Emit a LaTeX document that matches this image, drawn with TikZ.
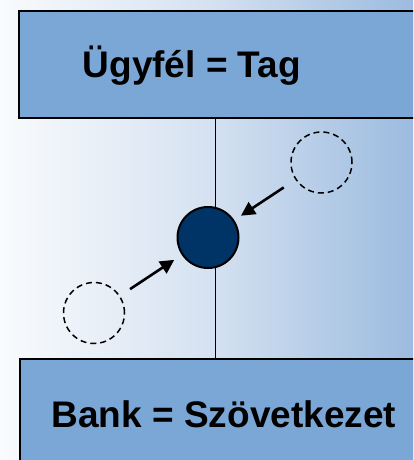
\documentclass[tikz,border=0pt]{standalone}
\usepackage{fontspec}
\setmainfont{Liberation Sans}
\usetikzlibrary{arrows.meta}
\definecolor{bgL}{HTML}{F9FBFD}
\definecolor{bgM}{HTML}{D6E2F1}
\definecolor{bgR}{HTML}{9CBBDF}
\definecolor{boxfill}{HTML}{7BA7D6}
\definecolor{dot}{HTML}{003366}
\tikzset{
  bluebox/.style={draw=black, line width=2pt, fill=boxfill, rectangle, inner sep=0pt},
  label text/.style={font=\bfseries\fontsize{37}{40}\selectfont, inner sep=0pt, anchor=base west},
  ghost/.style={circle, draw=black, dash pattern=on 6pt off 4pt, line width=1.5pt, minimum size=61pt, inner sep=0pt},
  member/.style={circle, draw=black, line width=2pt, fill=dot, minimum size=61pt, inner sep=0pt},
  arr/.style={line width=2.6pt, -{Triangle[length=14pt,width=14pt]}},
}
\begin{document}
\begin{tikzpicture}[x=1pt,y=-1pt]
\useasboundingbox (0,0) rectangle (413,460);
\clip (0,0) rectangle (413,460);
\shade[left color=bgL, right color=bgR, middle color=bgM] (0,0) rectangle (413,460);
\node[bluebox, minimum width=420pt, minimum height=107pt, anchor=north west] (top) at (18,10) {};
\node[bluebox, minimum width=420pt, minimum height=120pt, anchor=north west] (bot) at (19,358) {};
\node[label text] (toptext) at (82.5,77.5) {Ügyfél = Tag};
\node[label text] (bottext) at (51.5,427) {Bank = Szövetkezet};
\coordinate (vt) at (215.7,117);
\coordinate (vb) at (215.7,358);
\draw[line width=1.5pt] (vt) -- (vb);
\node[member] (m) at (208,237.5) {};
\node[ghost] (g1) at (321.5,162.5) {};
\node[ghost] (g2) at (94,313) {};
\draw[arr, shorten <=14pt, shorten >=8pt] (g1) -- (m);
\draw[arr, shorten <=12pt, shorten >=9pt] (g2) -- (m);
\end{tikzpicture}
\end{document}
